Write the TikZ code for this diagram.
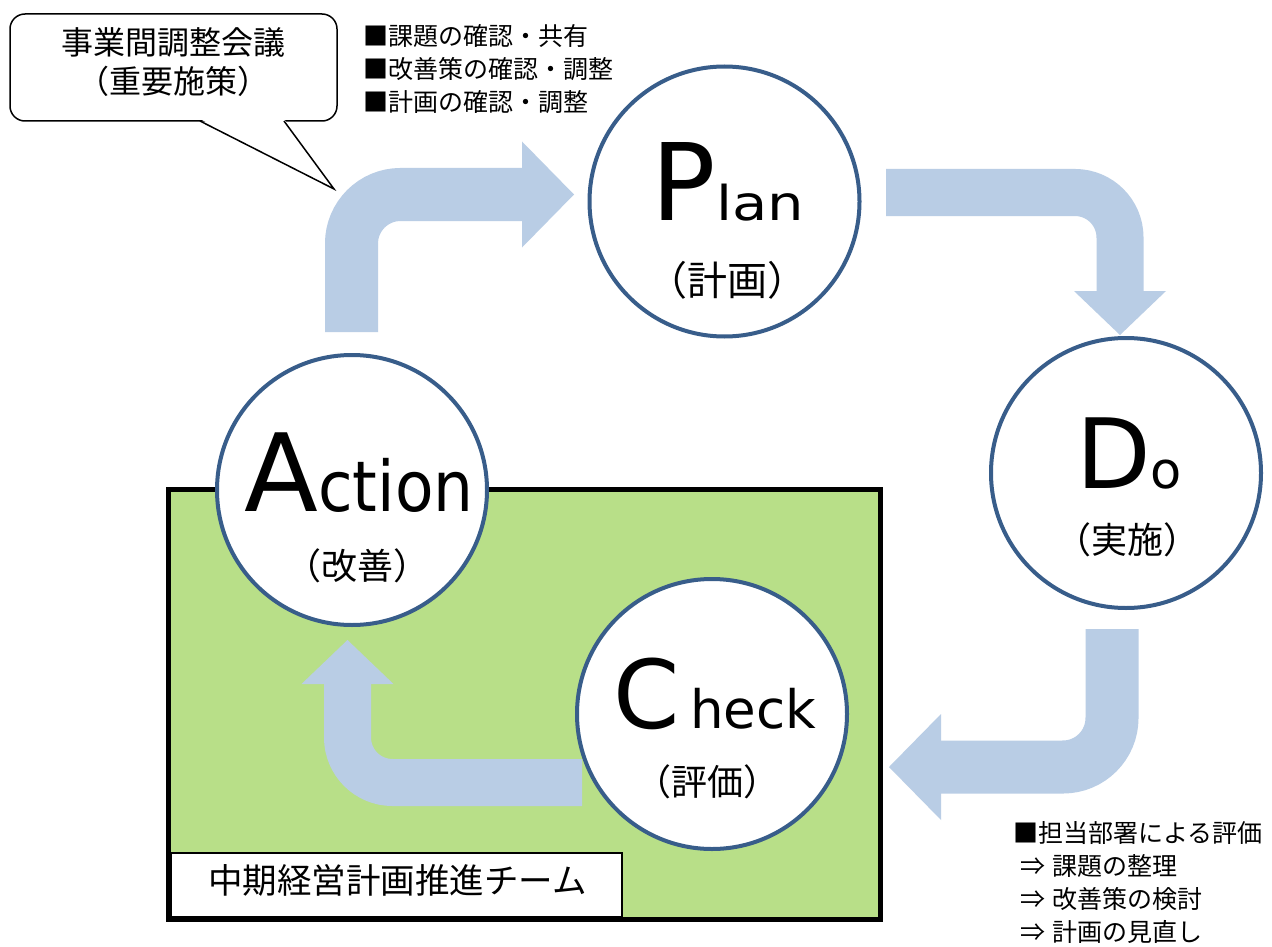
\documentclass[tikz,border=0pt]{standalone}
\usepackage{fontspec}
\setmainfont{Noto Sans CJK JP}
\newfontfamily\latinfont{DejaVu Sans}
\definecolor{arrowblue}{RGB}{185,205,229}
\definecolor{ringblue}{RGB}{56,93,138}
\definecolor{teamgreen}{RGB}{184,223,136}
\tikzset{
  ring/.style={circle, draw=ringblue, line width=4pt, fill=white, minimum size=270pt, inner sep=0pt},
  bigshaft/.style={draw=arrowblue, line width=53pt, rounded corners=49pt},
  smallshaft/.style={draw=arrowblue, line width=47pt, rounded corners=45pt},
  word/.style={anchor=base, inner sep=0pt, font=\latinfont},
  sub/.style={inner sep=0pt, font=\fontsize{36pt}{36pt}\selectfont},
  teamarea/.style={draw=black, fill=teamgreen, line width=5pt},
  teambox/.style={draw=black, fill=white, line width=1.5pt, minimum width=451pt, minimum height=64pt, inner sep=0pt},
  callout/.style={draw=black, fill=white, line width=1.5pt, rounded corners=15pt, minimum width=327pt, minimum height=107pt, inner sep=0pt},
  pointer/.style={draw=black, line width=1.5pt},
  calltxt/.style={align=center, inner sep=0pt, font=\fontsize{32pt}{39pt}\selectfont},
  listtxt/.style={align=left, anchor=west, inner sep=0pt, font=\fontsize{25pt}{33pt}\selectfont}
}

\begin{document}
\begin{tikzpicture}[x=1pt, y=-1pt]
  \path[use as bounding box, fill=white] (0,0) rectangle (1272,947);

  % team area
  \draw[teamarea] (168.5,489.5) rectangle (880.5,919.5);
  \node[teambox] (teambox) at (396.5,885) {};
  \node[inner sep=0pt, font=\fontsize{34.5pt}{34.5pt}\selectfont] (teamname) at (397.5,880) {中期経営計画推進チーム};

  % arrows
  \coordinate (ap0) at (351.5,332);
  \coordinate (ap1) at (523,194.5);
  \coordinate (pd0) at (886,192.5);
  \coordinate (pd1) at (1120,292);
  \coordinate (dc0) at (1112,629);
  \coordinate (dc1) at (940,767);
  \coordinate (ca0) at (582,782.5);
  \coordinate (ca1) at (347.5,683);

  \draw[bigshaft] (ap0) |- (ap1);
  \fill[arrowblue] (ap1) ++(-1,-53) -- ++(52,53) -- ++(-52,53) -- cycle;
  \draw[smallshaft] (pd0) -| (pd1);
  \fill[arrowblue] (pd1) ++(-46,-1) -- ++(46,44) -- ++(46,-44) -- cycle;
  \draw[bigshaft] (dc0) |- (dc1);
  \fill[arrowblue] (dc1) ++(1,-53) -- ++(-52,53) -- ++(52,53) -- cycle;
  \draw[smallshaft] (ca0) -| (ca1);
  \fill[arrowblue] (ca1) ++(-46,1) -- ++(46,-44) -- ++(46,44) -- cycle;

  % PDCA circles
  \node[ring] (plan) at (724.5,201.5) {};
  \node[ring] (do) at (1126,473) {};
  \node[ring] (check) at (712,714) {};
  \node[ring] (act) at (352,490) {};

  \node[word] (planw) at (728,220) {{\fontsize{107pt}{107pt}\selectfont P}\scalebox{1.2}[1]{\fontsize{48pt}{48pt}\selectfont lan}};
  \node[word] (dow) at (1129,488) {{\fontsize{97pt}{97pt}\selectfont D}{\fontsize{51pt}{51pt}\selectfont o}};
  \node[word] (checkw) at (715,728) {{\fontsize{95pt}{95pt}\selectfont C}\hspace{10pt}{\fontsize{53pt}{53pt}\selectfont heck}};
  \node[word] (actw) at (359,511) {{\fontsize{108pt}{108pt}\selectfont A}\scalebox{0.9}[1]{\fontsize{70pt}{70pt}\selectfont ction}};

  \node[sub, font=\fontsize{40pt}{40pt}\selectfont] (plans) at (727,280) {（計画）};
  \node[sub] (dos) at (1127,540) {（実施）};
  \node[sub] (checks) at (707,782) {（評価）};
  \node[sub] (acts) at (357.5,566) {（改善）};

  % callout
  \node[callout] (meet) at (173.5,67.5) {};
  \coordinate (meettip) at (334,189);
  \fill[white] (200,119) -- (meettip) -- (284,119) -- cycle;
  \draw[pointer] (200,121) -- (meettip) -- (284,121);
  \node[calltxt] (meettxt) at (173,62.5) {事業間調整会議\\（重要施策）};

  % notes
  \node[listtxt] (topics) at (363,69) {■課題の確認・共有\\■改善策の確認・調整\\■計画の確認・調整};
  \node[listtxt] (review) at (1013,883) {■担当部署による評価\\\hspace*{7pt}⇒\hspace*{7pt}課題の整理\\\hspace*{7pt}⇒\hspace*{7pt}改善策の検討\\\hspace*{7pt}⇒\hspace*{7pt}計画の見直し};
\end{tikzpicture}
\end{document}
